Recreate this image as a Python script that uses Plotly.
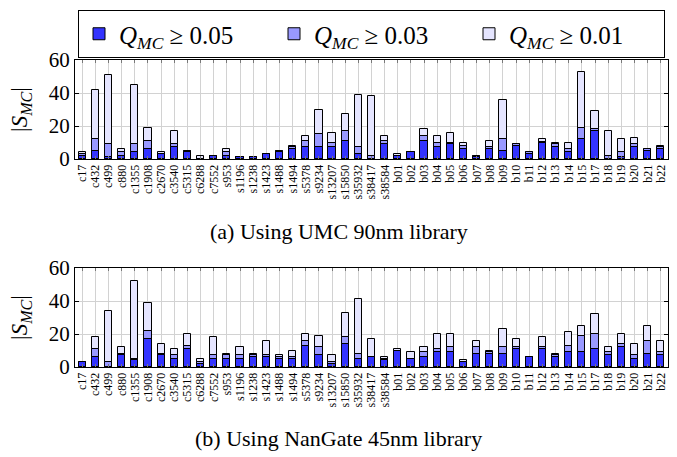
import plotly.graph_objects as go
from plotly.subplots import make_subplots

categories = ["c17","c432","c499","c880","c1355","c1908","c2670","c3540","c5315","c6288","c7552",
              "s953","s1196","s1238","s1423","s1488","s1494","s5378","s9234","s13207","s15850",
              "s35932","s38417","s38584",
              "b01","b02","b03","b04","b05","b06","b07","b08","b09","b10","b11","b12","b13","b14",
              "b15","b17","b18","b19","b20","b21","b22"]

# (a) UMC 90nm
umc_q05 = [2,5,1,2,4,6,3,7,4,0,2, 2,1,1,3,4,6,7.5,7,7.5,11, 3,0,9,
           2,4,11,7,9,6,1,6,5,8,3,10,7,4, 12,17,0,1,7,5,6]
umc_q03 = [3,12,9,4,9,11,3,9,5,0,2, 4,1,1,3,5,7,11,15,10,17, 7,2,11,
           2,4,14,10,10,8,2,7,12,9,4,10.5,9,6, 19,18,2,4,9,6,7]
umc_q01 = [4,42,51,6,45,19,4,17,5,2,2, 6,1,1,3,5,8,14,30,16,27, 39,38,14,
           3,4,18,14,16,10,2,11,36,9,4,12,10,10, 53,29,17,12,13,6,8]

# (b) NanGate 45nm
ng_q05 = [3,6,0,7,4,17,7,5,11,2,5, 5,5,6,6,5,5,13,7,2,14, 5,6,4,
          10,5,6,9,9,3,8,8,8,11,6,11,6,9, 9,11,7,12,5,8,7]
ng_q03 = [3,11,3,8,5,22,8,7,13,3,7, 7,7,7,7,6,6,16,12,3,18, 8,6,5,
          10,5,9,11,12,3,12,9,12,12,6,12,7,13, 19,20,9,14,7,16,9]
ng_q01 = [3,18,34,12,52,39,14,11,20,5,18, 8,12,8,16,7,10,20,19,7,33, 41,17,6,
          11,9,12,20,20,4,16,10,23,17,6,18,8,21, 25,32,12,20,14,25,16]

series_names = ["<i>Q</i><sub><i>MC</i></sub> ≥ 0.05",
                "<i>Q</i><sub><i>MC</i></sub> ≥ 0.03",
                "<i>Q</i><sub><i>MC</i></sub> ≥ 0.01"]
colors = ["rgb(51,51,255)", "rgb(153,153,255)", "rgb(229,229,255)"]
captions = ["(a) Using UMC 90nm library", "(b) Using NanGate 45nm library"]

fig = make_subplots(rows=2, cols=1, vertical_spacing=0.1)

for row, (q05, q03, q01) in enumerate([(umc_q05, umc_q03, umc_q01), (ng_q05, ng_q03, ng_q01)], start=1):
    for idx, vals in [(2, q01), (1, q03), (0, q05)]:
        fig.add_trace(go.Bar(
            x=categories, y=vals, name=series_names[idx],
            marker=dict(color=colors[idx], line=dict(color="black", width=1)),
            width=0.55, showlegend=(row == 1), legendrank=idx + 1,
        ), row=row, col=1)

font_family = "Liberation Serif"
axis_common = dict(showline=True, linecolor="black", linewidth=1, mirror="ticks",
                   showgrid=True, gridcolor="rgb(210,210,210)", gridwidth=1)

W, H = 677, 457
L, R = 75, 9
PW = W - L - R

for r, (top, bot) in [(1, (60, 159)), (2, (268, 367))]:
    fig.update_xaxes(row=r, col=1, tickangle=-90, range=[-0.55, 44.55],
                     tickmode="linear", tick0=0, dtick=1,
                     tickfont=dict(family=font_family, size=12, color="black"),
                     ticks="inside", ticklen=3, tickcolor="rgb(120,120,120)",
                     **axis_common)
    fig.update_yaxes(row=r, col=1, range=[0, 60], tickvals=[0, 20, 40, 60],
                     domain=[1 - bot / H, 1 - top / H],
                     tickfont=dict(family=font_family, size=21, color="black"),
                     ticks="inside", ticklen=4, tickcolor="black",
                     title=dict(text="|<i>S</i><sub><i>MC</i></sub>|",
                                font=dict(family=font_family, size=23, color="black"),
                                standoff=14),
                     zeroline=False, **axis_common)

fig.update_layout(
    width=W, height=H,
    margin=dict(l=L, r=R, t=0, b=0, autoexpand=False),
    plot_bgcolor="white", paper_bgcolor="white",
    barmode="overlay",
    bargap=0,
    legend=dict(orientation="h", x=(78 - L) / PW, y=1 - 10 / H, xanchor="left", yanchor="top",
                bordercolor="black", borderwidth=1, bgcolor="white",
                font=dict(family=font_family, size=25, color="black"),
                entrywidth=150, entrywidthmode="pixels",
                itemwidth=30, tracegroupgap=0),
    annotations=[
        dict(text=captions[0], x=(338.5 - L) / PW, y=1 - 231 / H,
             xref="paper", yref="paper", xanchor="center", yanchor="middle",
             showarrow=False, font=dict(family=font_family, size=22, color="black")),
        dict(text=captions[1], x=(338.5 - L) / PW, y=1 - 438 / H,
             xref="paper", yref="paper", xanchor="center", yanchor="middle",
             showarrow=False, font=dict(family=font_family, size=22, color="black")),
    ],
)

fig.write_html("out.html", config={"displayModeBar": False},
               post_script="document.body.style.margin='0px';")
